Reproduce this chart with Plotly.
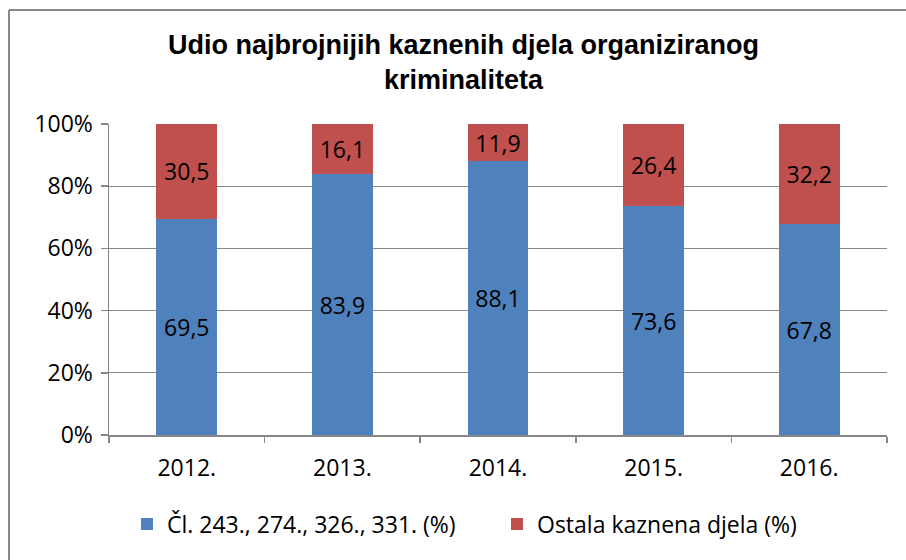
import plotly.graph_objects as go

years = ["2012.", "2013.", "2014.", "2015.", "2016."]
clanci = [69.5, 83.9, 88.1, 73.6, 67.8]
ostala = [30.5, 16.1, 11.9, 26.4, 32.2]
series_names = ["Čl. 243., 274., 326., 331. (%)", "Ostala kaznena djela (%)"]
title_text = "Udio najbrojnijih kaznenih djela organiziranog<br>kriminaliteta"
ytick_vals = [0, 20, 40, 60, 80, 100]
ytick_text = ["0%", "20%", "40%", "60%", "80%", "100%"]

def fmt(v):
    return f"{v:.1f}".replace(".", ",")

BLUE = "#4F81BD"
RED = "#C0504D"
GRID = "#868686"
FONT = "Open Sans, DejaVu Sans, sans-serif"
FS = 23

L, R, T, B = 109, 19, 124, 125
W, H = 906, 560
pw, ph = W - L - R, H - T - B

fig = go.Figure()
for i, (name, vals, col) in enumerate([(series_names[0], clanci, BLUE), (series_names[1], ostala, RED)]):
    fig.add_trace(go.Bar(
        x=years, y=vals, name=name, marker=dict(color=col, line=dict(width=0)),
        text=[fmt(v) for v in vals], textposition="inside", insidetextanchor="middle",
        textfont=dict(color="black", size=FS, family=FONT), textangle=0,
        constraintext="none", cliponaxis=False, hoverinfo="skip",
        legend="legend" if i == 0 else "legend2",
    ))

leg_y = (435 - 524) / ph
fig.update_layout(
    width=W, height=H, barmode="stack", bargap=0.61,
    margin=dict(l=L, r=R, t=T, b=B),
    paper_bgcolor="white", plot_bgcolor="white",
    font=dict(family=FONT, size=FS, color="black"),
    title=dict(text=title_text, x=463.5 / W, xanchor="center",
               y=1 - 54 / H, yanchor="top",
               font=dict(family="Liberation Sans, Arial, sans-serif", size=27, color="black", weight="bold")),
    showlegend=True,
    legend=dict(orientation="h", x=(127 - L) / pw, xanchor="left", y=leg_y, yanchor="middle",
                font=dict(size=FS, family=FONT), itemwidth=30, bgcolor="rgba(0,0,0,0)"),
    legend2=dict(orientation="h", x=(497 - L) / pw, xanchor="left", y=leg_y, yanchor="middle",
                 font=dict(size=FS, family=FONT), itemwidth=30, bgcolor="rgba(0,0,0,0)"),
)
fig.update_xaxes(type="category", showline=True, linecolor=GRID, linewidth=1.5,
                 ticks="outside", tickson="boundaries", ticklen=6, tickcolor=GRID, tickwidth=1.5,
                 showgrid=False, tickfont=dict(size=FS, family=FONT), ticklabelstandoff=12)
fig.update_yaxes(range=[0, 100], tickvals=ytick_vals, ticktext=ytick_text,
                 showline=True, linecolor=GRID, linewidth=1.5,
                 ticks="outside", ticklen=7, tickcolor=GRID, tickwidth=1.5,
                 showgrid=True, gridcolor=GRID, gridwidth=1.2, zeroline=False,
                 tickfont=dict(size=FS, family=FONT), ticklabelstandoff=3)

bx = (9 - L) / pw
by = (435 - 10) / ph
fig.add_shape(type="line", xref="paper", yref="paper", x0=bx, x1=bx, y0=-2, y1=by,
              line=dict(color=GRID, width=2))
fig.add_shape(type="line", xref="paper", yref="paper", x0=bx, x1=2, y0=by, y1=by,
              line=dict(color=GRID, width=2))

fig.write_html("out.html", config={"displayModeBar": False, "staticPlot": True},
               post_script="document.body.style.margin='0';")
